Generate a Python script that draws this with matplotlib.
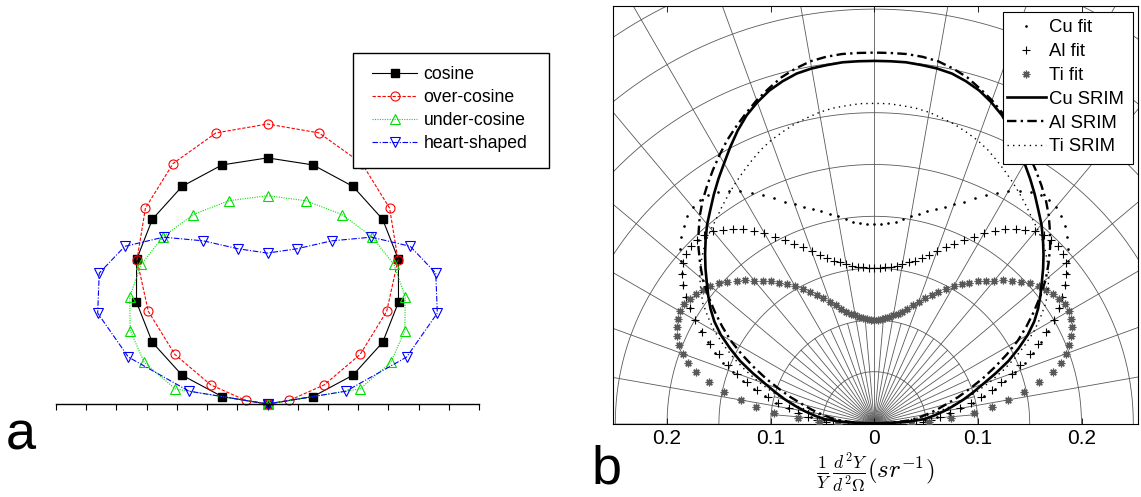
import numpy as np
import matplotlib
matplotlib.use('Agg')
import matplotlib.pyplot as plt
from matplotlib.patches import Rectangle

plt.rcParams['font.family'] = ['Liberation Sans', 'DejaVu Sans']
plt.rcParams['mathtext.fontset'] = 'cm'

# ---------------- Panel a data (angle from normal, normalised radius) -------------
a_angles = [0, 10, 20, 30, 40, 50, 60, 70, 80, 90]
a_cosine = [0.879, 0.867, 0.827, 0.762, 0.674, 0.566, 0.440, 0.301, 0.153, 0.0]
a_over = [1.000, 0.983, 0.914, 0.808, 0.672, 0.515, 0.354, 0.200, 0.073, 0.0]
a_under = [0.744, 0.737, 0.720, 0.690, 0.651, 0.595, 0.525, 0.434, 0.310, 0.0]
a_heart = [0.539, 0.563, 0.620, 0.688, 0.735, 0.727, 0.649, 0.490, 0.264, 0.0]
a_labels = ['cosine', 'over-cosine', 'under-cosine', 'heart-shaped']
a_ticks = [-0.7, -0.6, -0.5, -0.4, -0.3, -0.2, -0.1, 0.0, 0.1, 0.2, 0.3, 0.4, 0.5, 0.6, 0.7]

# ---------------- Panel b data -------------
b_line_angles = [0, 2.5, 5, 7.5, 10, 12.5, 15, 17.5, 20, 22.5, 25, 27.5, 30, 32.5, 35, 37.5,
                 40, 42.5, 45, 47.5, 50, 52.5, 55, 57.5, 60, 62.5, 65, 67.5, 70, 72.5, 75,
                 77.5, 80, 82.5, 85, 87.5, 90]
cu_srim = [0.350, 0.350, 0.350, 0.349, 0.348, 0.346, 0.342, 0.337, 0.330, 0.322, 0.312,
           0.301, 0.290, 0.280, 0.270, 0.260, 0.251, 0.241, 0.231, 0.221, 0.211, 0.202,
           0.193, 0.183, 0.171, 0.157, 0.143, 0.127, 0.112, 0.100, 0.089, 0.078, 0.068,
           0.058, 0.048, 0.030, 0.0]
al_srim = [0.358, 0.358, 0.358, 0.357, 0.355, 0.351, 0.346, 0.339, 0.332, 0.324, 0.316,
           0.308, 0.299, 0.290, 0.281, 0.272, 0.262, 0.251, 0.240, 0.228, 0.216, 0.202,
           0.188, 0.174, 0.160, 0.144, 0.128, 0.113, 0.098, 0.085, 0.072, 0.062, 0.052,
           0.043, 0.033, 0.018, 0.0]
ti_srim = [0.309, 0.309, 0.308, 0.307, 0.305, 0.302, 0.299, 0.295, 0.291, 0.286, 0.280,
           0.274, 0.268, 0.262, 0.256, 0.250, 0.245, 0.240, 0.234, 0.227, 0.220, 0.211,
           0.202, 0.190, 0.178, 0.164, 0.150, 0.135, 0.120, 0.105, 0.090, 0.075, 0.060,
           0.045, 0.030, 0.015, 0.0]

b_fit_angles = list(range(0, 92, 2))
cu_fit = [0.193, 0.193, 0.194, 0.196, 0.199, 0.203, 0.207, 0.211, 0.215, 0.220,
          0.225, 0.231, 0.238, 0.245, 0.252, 0.259, 0.265, 0.270, 0.273, 0.274,
          0.273, 0.270, 0.265, 0.259, 0.252, 0.244, 0.236, 0.228, 0.219, 0.210,
          0.200, 0.190, 0.179, 0.168, 0.157, 0.145, 0.133, 0.121, 0.109, 0.097,
          0.085, 0.073, 0.061, 0.049, 0.037, 0.025]
al_fit = [0.150, 0.150, 0.151, 0.152, 0.154, 0.156, 0.159, 0.162, 0.166, 0.171,
          0.177, 0.184, 0.190, 0.197, 0.204, 0.212, 0.219, 0.226, 0.232, 0.237,
          0.242, 0.245, 0.246, 0.246, 0.245, 0.241, 0.235, 0.228, 0.219, 0.210,
          0.200, 0.188, 0.176, 0.164, 0.152, 0.141, 0.129, 0.118, 0.106, 0.095,
          0.084, 0.074, 0.064, 0.055, 0.047, 0.040]
ti_fit = [0.100, 0.100, 0.101, 0.102, 0.104, 0.106, 0.108, 0.111, 0.115, 0.120,
          0.125, 0.131, 0.136, 0.141, 0.147, 0.153, 0.159, 0.164, 0.170, 0.175,
          0.180, 0.186, 0.191, 0.197, 0.202, 0.207, 0.210, 0.213, 0.215, 0.217,
          0.217, 0.215, 0.212, 0.208, 0.203, 0.197, 0.189, 0.179, 0.164, 0.148,
          0.131, 0.115, 0.097, 0.074, 0.053, 0.035]
b_labels = ['Cu fit', 'Al fit', 'Ti fit', 'Cu SRIM', 'Al SRIM', 'Ti SRIM']
b_xticks = [-0.2, -0.1, 0.0, 0.1, 0.2]
b_xticklabels = ['0.2', '0.1', '0', '0.1', '0.2']
grid_radii = [0.05, 0.10, 0.15, 0.20, 0.25, 0.30, 0.35, 0.40, 0.45, 0.50]
grid_major_angles = [-90, -80, -70, -60, -50, -40, -30, -20, -10, 0, 10, 20, 30, 40, 50, 60, 70, 80, 90]
grid_minor_angles = [-85, -75, -65, -55, -45, -35, -25, -15, -5, 5, 15, 25, 35, 45, 55, 65, 75, 85]


def mirror(angles_deg, r):
    ang = np.radians(np.asarray(angles_deg, float))
    r = np.asarray(r, float)
    th = np.concatenate([-ang[::-1], ang[1:]])
    rr = np.concatenate([r[::-1], r[1:]])
    return rr * np.sin(th), rr * np.cos(th)


W, H = 1141, 497
fig = plt.figure(figsize=(W / 100, H / 100), dpi=100)


def px_axes(left, top, right, bottom):
    return fig.add_axes([left / W, 1 - bottom / H, (right - left) / W, (bottom - top) / H])


def px_box(ax, left, top, right, bottom, lw):
    r = Rectangle((left / W, 1 - bottom / H), (right - left) / W, (bottom - top) / H,
                  transform=fig.transFigure, facecolor='white', edgecolor='black',
                  lw=lw, zorder=8, clip_on=False)
    ax.add_artist(r)


# ================= Panel a =================
axa = px_axes(56, 40, 479, 404)
axa.set_xlim(-0.7, 0.7)
axa.set_ylim(0, 364 / 280.0)
for s in ['top', 'left', 'right']:
    axa.spines[s].set_visible(False)
axa.spines['bottom'].set_linewidth(1.0)
axa.set_xticks(a_ticks)
axa.set_yticks([])
axa.tick_params(axis='x', direction='out', length=4.5, width=0.8, labelbottom=False)
axa.patch.set_visible(False)

styles_a = [
    dict(color='black', ls='-', lw=0.8, marker='s', ms=5.5, mfc='black', mec='black'),
    dict(color='#ff0000', ls=(0, (3, 1.5)), lw=0.8, marker='o', ms=6.5, mfc='none', mec='#ff0000', mew=0.8),
    dict(color='#00e000', ls=(0, (1, 1.2)), lw=0.8, marker='^', ms=6.5, mfc='none', mec='#00dd00', mew=0.8),
    dict(color='#0000ff', ls=(0, (5, 1.5, 1, 1.5)), lw=0.8, marker='v', ms=6.5, mfc='none', mec='#0000ff', mew=0.8),
]
for data, lab, st in zip([a_cosine, a_over, a_under, a_heart], a_labels, styles_a):
    x, y = mirror(a_angles, data)
    axa.plot(x, y, label=lab, clip_on=False, **st)

px_box(axa, 352.7, 52.7, 549, 168, 1.0)
lega = axa.legend(loc='upper left', bbox_to_anchor=(371.7 / W, 1 - 66.0 / H),
                  bbox_transform=fig.transFigure, fontsize=12.7, frameon=False,
                  borderpad=0, labelspacing=0.34,
                  handlelength=2.59, handletextpad=0.34, borderaxespad=0)
lega.set_zorder(10)

fig.text(21, H - 436, 'a', fontsize=39, ha='center', va='center', transform=None)

# ================= Panel b =================
axb = px_axes(612.7, 6, 1138, 423.5)
x0 = 874.3
scale = 1036.0
axb.set_xlim(-(x0 - 612.7) / scale, (1138 - x0) / scale)
axb.set_ylim(0, (423.5 - 6) / scale)

gcol = '0.35'
glw = 0.6
tt = np.linspace(0, np.pi, 400)
for rg in grid_radii:
    axb.plot(rg * np.cos(tt), rg * np.sin(tt), color=gcol, lw=glw, zorder=1)
for ag in grid_major_angles:
    a = np.radians(ag)
    axb.plot([0, 0.6 * np.sin(a)], [0, 0.6 * np.cos(a)], color=gcol, lw=glw, zorder=1)
for ag in grid_minor_angles:
    a = np.radians(ag)
    axb.plot([0, 0.1 * np.sin(a)], [0, 0.1 * np.cos(a)], color=gcol, lw=glw, zorder=1)

x, y = mirror(b_fit_angles, cu_fit)
axb.plot(x, y, ls='none', marker='.', ms=1.8, color='black', label=b_labels[0], zorder=3)
x, y = mirror(b_fit_angles, al_fit)
axb.plot(x, y, ls='none', marker='+', ms=6, mew=0.8, color='black', label=b_labels[1], zorder=3)
x, y = mirror(b_fit_angles, ti_fit)
axb.plot(x, y, ls='none', marker=(8, 2, 0), ms=5.5, mew=0.9, color='0.35', mec='0.35',
         label=b_labels[2], zorder=3)
x, y = mirror(b_line_angles, cu_srim)
axb.plot(x, y, ls='-', lw=1.9, color='black', label=b_labels[3], zorder=4)
x, y = mirror(b_line_angles, al_srim)
axb.plot(x, y, ls=(0, (4, 1.8, 1, 1.8)), lw=1.7, color='black', label=b_labels[4], zorder=4)
x, y = mirror(b_line_angles, ti_srim)
axb.plot(x, y, ls=(0, (1, 3)), lw=1.0, color='black', label=b_labels[5], zorder=4)

axb.set_xticks(b_xticks)
axb.set_xticklabels(b_xticklabels)
axb.set_yticks([])
axb.tick_params(axis='x', direction='in', top=True, length=4, width=0.6, labelsize=15, pad=4)
for s in axb.spines.values():
    s.set_linewidth(0.8)

px_box(axb, 1002.7, 12.3, 1132.7, 164.3, 0.8)
legb = axb.legend(loc='upper left', bbox_to_anchor=(1007 / W, 1 - 19.3 / H),
                  bbox_transform=fig.transFigure, fontsize=13.3, frameon=False,
                  borderpad=0, labelspacing=0.37,
                  handlelength=2.1, handletextpad=0.16, borderaxespad=0, numpoints=1)
legb.set_zorder(10)

fig.text(875, H - 473, r'$\frac{1}{Y}\,\frac{d^2Y}{d^2\Omega}(sr^{-1})$', fontsize=18,
         ha='center', va='center', transform=None)
fig.text(607, H - 470, 'b', fontsize=39, ha='center', va='center', transform=None)

fig.savefig('out.png', dpi=100)
